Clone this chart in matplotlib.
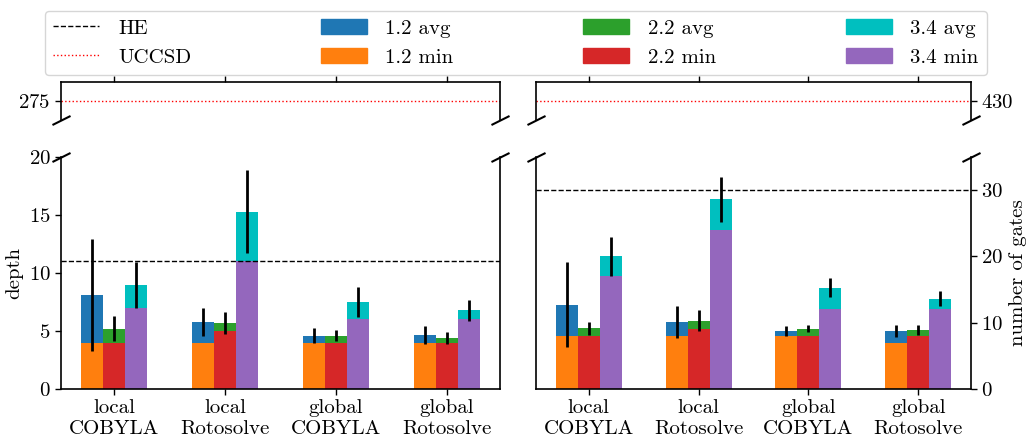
import numpy as np
import matplotlib
matplotlib.use("Agg")
import matplotlib.pyplot as plt
from matplotlib.patches import Patch
from matplotlib.lines import Line2D

plt.rcParams['font.family'] = ['cmr10', 'DejaVu Serif']
plt.rcParams['axes.formatter.use_mathtext'] = True
plt.rcParams['font.size'] = 15

categories = ["local\nCOBYLA", "local\nRotosolve", "global\nCOBYLA", "global\nRotosolve"]
bonds = ["1.2", "2.2", "3.4"]

# depth (left panel)
depth_avg = {"1.2": [8.1, 5.8, 4.6, 4.65], "2.2": [5.2, 5.7, 4.6, 4.4], "3.4": [8.95, 15.3, 7.5, 6.8]}
depth_min = {"1.2": [4, 4, 4, 4], "2.2": [4, 5, 4, 4], "3.4": [7, 11, 6, 6]}
depth_err = {"1.2": [4.85, 1.2, 0.67, 0.8], "2.2": [1.1, 0.97, 0.49, 0.49], "3.4": [2.0, 3.6, 1.3, 0.9]}
# number of gates (right panel)
gates_avg = {"1.2": [12.7, 10.1, 8.8, 8.8], "2.2": [9.2, 10.3, 9.1, 8.9], "3.4": [20.0, 28.6, 15.3, 13.6]}
gates_min = {"1.2": [8, 8, 8, 7], "2.2": [8, 9, 8, 8], "3.4": [17, 24, 12, 12]}
gates_err = {"1.2": [6.4, 2.4, 0.73, 0.9], "2.2": [0.98, 1.6, 0.5, 0.8], "3.4": [3.0, 3.4, 1.48, 1.15]}

he_depth, he_gates = 11, 30
uccsd_depth, uccsd_gates = 275, 430

avg_colors = {"1.2": "tab:blue", "2.2": "tab:green", "3.4": "c"}
min_colors = {"1.2": "tab:orange", "2.2": "tab:red", "3.4": "tab:purple"}

fig = plt.figure(figsize=(10.29, 4.4), dpi=100)
W, H = 1029, 440

def pos(x0, x1, y0, y1):
    return [x0 / W, 1 - y1 / H, (x1 - x0) / W, (y1 - y0) / H]

axLT = fig.add_axes(pos(61, 500, 82, 120))
axLB = fig.add_axes(pos(61, 500, 157, 389))
axRT = fig.add_axes(pos(536, 971, 82, 120))
axRB = fig.add_axes(pos(536, 971, 157, 389))

x = np.arange(len(categories))
width = 0.2

def draw_bars(ax, avg, mn, err):
    for k, b in enumerate(bonds):
        xs = x + (k - 1) * width
        ax.bar(xs, avg[b], width, color=avg_colors[b], zorder=2)
        ax.bar(xs, mn[b], width, color=min_colors[b], zorder=2)
        ax.errorbar(xs, avg[b], yerr=err[b], fmt='none', ecolor='k', elinewidth=2, capsize=0, zorder=4)

draw_bars(axLB, depth_avg, depth_min, depth_err)
draw_bars(axRB, gates_avg, gates_min, gates_err)

for ax in (axLT, axLB, axRT, axRB):
    ax.set_xlim(-0.48, 3.48)
    ax.set_xticks(x)

axLB.axhline(he_depth, color='k', ls='--', lw=1, zorder=3)
axRB.axhline(he_gates, color='k', ls='--', lw=1, zorder=3)
axLT.axhline(uccsd_depth, color='red', ls=':', lw=1)
axRT.axhline(uccsd_gates, color='red', ls=':', lw=1)

axLB.set_ylim(0, 20)
axLB.set_yticks([0, 5, 10, 15, 20])
axRB.set_ylim(0, 35)
axRB.set_yticks([0, 10, 20, 30])
axLT.set_ylim(270, 280)
axLT.set_yticks([275])
axRT.set_ylim(425, 435)
axRT.set_yticks([430])

for ax in (axLB, axRB):
    ax.set_xticklabels(categories)
    ax.spines['top'].set_visible(False)
for ax in (axLT, axRT):
    ax.spines['bottom'].set_visible(False)
    ax.tick_params(axis='x', bottom=False, labelbottom=False, top=True, labeltop=False)

axRB.yaxis.tick_right()
axRT.yaxis.tick_right()
axRB.yaxis.set_label_position('right')
axLB.set_ylabel('depth')
axRB.set_ylabel('number of gates')

for ax in (axLT, axLB, axRT, axRB):
    for s in ax.spines.values():
        s.set_linewidth(1.2)
    ax.tick_params(width=1.0, length=4)

# break marks
d = 0.5
kw = dict(marker=[(-1, -d), (1, d)], markersize=13, linestyle='none', color='k', mec='k', mew=1.5, clip_on=False)
for ax in (axLT, axRT):
    ax.plot([0, 1], [0, 0], transform=ax.transAxes, **kw)
for ax in (axLB, axRB):
    ax.plot([0, 1], [1, 1], transform=ax.transAxes, **kw)

handles = [Line2D([], [], color='k', ls='--', lw=1), Line2D([], [], color='red', ls=':', lw=1)]
labels = ["HE", "UCCSD"]
for b in bonds:
    handles += [Patch(color=avg_colors[b]), Patch(color=min_colors[b])]
    labels += [f"{b} avg", f"{b} min"]

fig.legend(handles, labels, loc='lower left', bbox_to_anchor=(45 / W, 1 - 75 / H, 942 / W, 70 / H),
           mode='expand', ncol=4, frameon=True, fancybox=True, handlelength=2.2, fontsize=15,
           borderaxespad=0, handletextpad=0.9)

fig.savefig('out.png', dpi=100)
